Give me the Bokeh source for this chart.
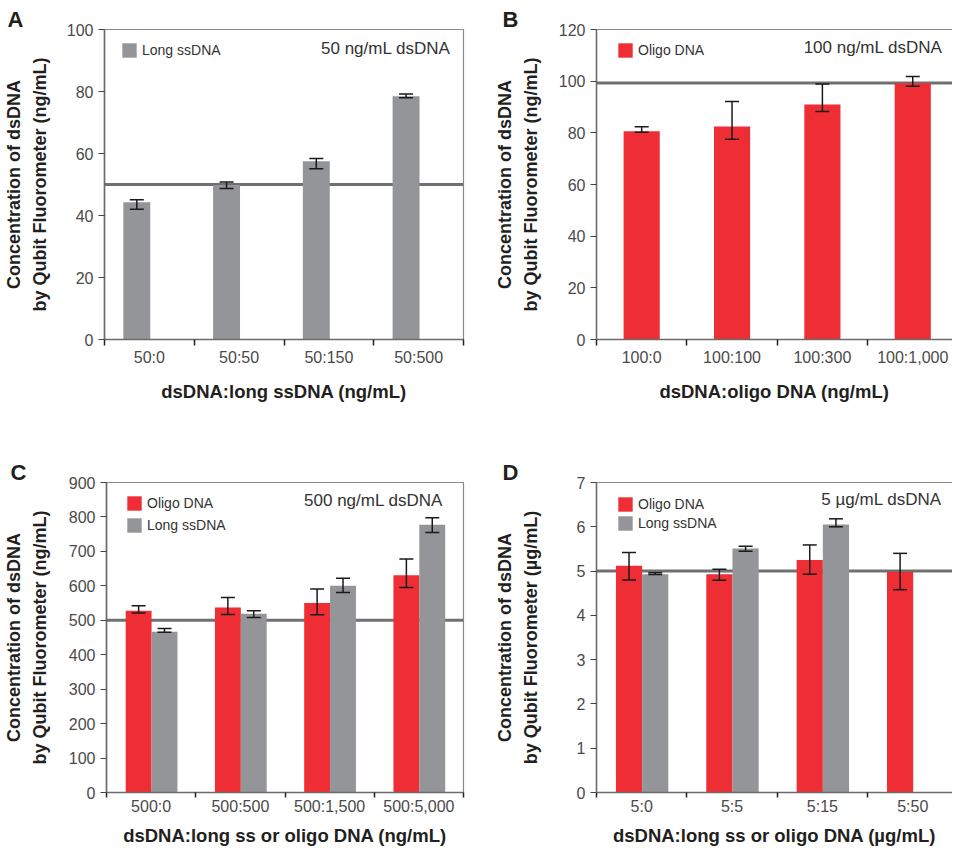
import numpy as np
from bokeh.plotting import figure
from bokeh.models import (Range1d, FixedTicker, SingleIntervalTicker, LinearAxis, Span, Label,
                          Whisker, TeeHead, ColumnDataSource, Legend, LegendItem)
from bokeh.layouts import column, row
from bokeh.embed import file_html
from bokeh.resources import INLINE

RED = "#ee2e34"
GREY = "#939598"
FONT = "Liberation Sans"

# ---------------- data ----------------
# Panel A: 50 ng/mL dsDNA + long ssDNA
a_categories = ["50:0", "50:50", "50:150", "50:500"]
a_long = [44.3, 49.8, 57.5, 78.5]
a_long_lo = [42.0, 48.7, 55.1, 78.0]
a_long_hi = [45.1, 50.8, 58.4, 79.2]
a_ref = 50

# Panel B: 100 ng/mL dsDNA + oligo DNA
b_categories = ["100:0", "100:100", "100:300", "100:1,000"]
b_oligo = [80.6, 82.5, 91.0, 99.2]
b_oligo_lo = [80.2, 77.5, 88.3, 98.0]
b_oligo_hi = [82.4, 92.1, 98.9, 101.8]
b_ref = 99.3

# Panel C: 500 ng/mL dsDNA
c_categories = ["500:0", "500:500", "500:1,500", "500:5,000"]
c_oligo = [528, 537, 550, 631]
c_oligo_lo = [521, 517, 516, 595]
c_oligo_hi = [542, 566, 591, 678]
c_long = [467, 519, 600, 777]
c_long_lo = [465, 508, 581, 755]
c_long_hi = [476, 528, 622, 798]
c_ref = 500

# Panel D: 5 µg/mL dsDNA
d_categories = ["5:0", "5:5", "5:15", "5:50"]
d_oligo = [5.12, 4.93, 5.25, 4.98]
d_oligo_lo = [4.80, 4.79, 4.93, 4.58]
d_oligo_hi = [5.42, 5.04, 5.59, 5.40]
d_long = [4.93, 5.51, 6.05, np.nan]
d_long_lo = [4.92, 5.45, 6.00, np.nan]
d_long_hi = [4.96, 5.56, 6.18, np.nan]
d_ref = 5.0

Y_TITLE_NG = "Concentration of dsDNA\nby Qubit Fluorometer (ng/mL)"
Y_TITLE_UG = "Concentration of dsDNA\nby Qubit Fluorometer (µg/mL)"


def make_panel(letter, cats, series, ref_level, y_end, y_step, y_title, x_title, note,
               width, height, x_end, mb, boxed, note_xy, letter_offset, legend_xy, legend_spacing,
               ylab_standoff, xlab_standoff, xtick_standoff, xtick_out, xminor_out):
    p = figure(width=width, height=height, x_range=Range1d(0, x_end), y_range=Range1d(0, y_end),
               output_backend="svg", toolbar_location=None,
               min_border_left=mb[0], min_border_right=mb[1], min_border_top=mb[2], min_border_bottom=mb[3])
    p.xgrid.visible = False
    p.ygrid.visible = False
    p.background_fill_color = "white"
    p.border_fill_color = "white"
    p.outline_line_color = "#8a8a8a" if boxed else None
    p.outline_line_width = 1.2

    # panel letter as the figure title
    p.title.text = letter
    p.title.align = "left"
    p.title.offset = letter_offset
    p.title.standoff = -4
    p.title.text_font = FONT
    p.title.text_font_size = "22px"
    p.title.text_font_style = "bold"
    p.title.text_color = "#231f20"

    items = []
    n = len(cats)
    for s in series:
        xs = [i + s["slot"] for i in range(n)]
        src = ColumnDataSource(dict(x=xs, top=list(s["values"]), lo=list(s["lo"]), hi=list(s["hi"])))
        r = p.vbar(x="x", top="top", bottom=0, width=s["width"], source=src,
                   fill_color=s["color"], line_color=None)
        items.append(LegendItem(label=s["name"], renderers=[r]))
        w = Whisker(source=src, base="x", lower="lo", upper="hi", dimension="height",
                    line_color="#1a1a1a", line_width=1.5, level="overlay",
                    upper_head=TeeHead(size=14, line_color="#1a1a1a", line_width=1.5),
                    lower_head=TeeHead(size=14, line_color="#1a1a1a", line_width=1.5))
        p.add_layout(w)

    p.add_layout(Span(location=ref_level, dimension="width", line_color="#707070", line_width=3,
                      level="underlay"))

    # x axis: labels at category centres, tick marks at category boundaries
    xa = p.below[0]
    xa.ticker = FixedTicker(ticks=[i + 0.5 for i in range(n)], minor_ticks=list(range(n + 1)))
    xa.major_label_overrides = {i + 0.5: c for i, c in enumerate(cats)}
    xa.major_tick_line_color = None
    xa.major_tick_out = xtick_out
    xa.major_tick_in = 0
    xa.minor_tick_out = xminor_out
    xa.minor_tick_in = 0
    xa.minor_tick_line_color = "#222222"
    xa.minor_tick_line_width = 1.5
    xa.axis_line_color = "#6b6b6b"
    xa.axis_line_width = 1.6
    xa.major_label_standoff = xtick_standoff
    xa.major_label_text_font = FONT
    xa.major_label_text_font_size = "16px"
    xa.major_label_text_color = "#4a4a4a"
    xa.axis_label = x_title
    xa.axis_label_text_font = FONT
    xa.axis_label_text_font_style = "bold"
    xa.axis_label_text_font_size = "18.5px"
    xa.axis_label_text_color = "#231f20"
    xa.axis_label_standoff = xlab_standoff

    ya = p.left[0]
    ya.ticker = SingleIntervalTicker(interval=y_step, num_minor_ticks=0)
    ya.major_tick_out = 6
    ya.major_tick_in = 0
    ya.major_tick_line_color = "#444444"
    ya.major_tick_line_width = 1.2
    ya.minor_tick_line_color = None
    ya.axis_line_color = "#6b6b6b"
    ya.axis_line_width = 1.6
    ya.major_label_standoff = 5
    ya.major_label_text_font = FONT
    ya.major_label_text_font_size = "16px"
    ya.major_label_text_color = "#4a4a4a"
    ya.axis_label = y_title
    ya.axis_label_text_font = FONT
    ya.axis_label_text_font_style = "bold"
    ya.axis_label_text_font_size = "18px"
    ya.axis_label_text_color = "#231f20"
    ya.axis_label_text_line_height = 1.3
    ya.axis_label_standoff = ylab_standoff

    if not boxed:
        top_axis = LinearAxis(ticker=FixedTicker(ticks=[]), axis_line_color="#8a8a8a",
                              axis_line_width=1.2, major_tick_line_color=None,
                              minor_tick_line_color=None, major_label_text_font_size="0px",
                              major_tick_out=0, major_tick_in=0, major_label_standoff=0)
        p.add_layout(top_axis, "above")

    legend = Legend(items=items, location=legend_xy, orientation="vertical",
                    glyph_width=18, glyph_height=18, label_height=18, label_standoff=4,
                    spacing=legend_spacing, padding=0, margin=0,
                    border_line_color=None, background_fill_alpha=0,
                    label_text_font=FONT, label_text_font_size="14px", label_text_color="#333333")
    p.add_layout(legend)

    p.add_layout(Label(x=note_xy[0], y=note_xy[1], text=note, text_align="right",
                       text_baseline="middle", text_font=FONT, text_font_size="17px",
                       text_color="#333333"))
    return p


pa = make_panel("A", a_categories,
                [dict(name="Long ssDNA", color=GREY, values=a_long, lo=a_long_lo, hi=a_long_hi,
                      slot=0.36, width=0.30)],
                a_ref, 100, 20, Y_TITLE_NG, "dsDNA:long ssDNA (ng/mL)", "50 ng/mL dsDNA",
                477, 440, 4, (104, 14, 29, 101), True, (3.855, 93.9), -97,
                (16, 280), 0, 14, 12, 3, 6, 6)

pb = make_panel("B", b_categories,
                [dict(name="Oligo DNA", color=RED, values=b_oligo, lo=b_oligo_lo, hi=b_oligo_hi,
                      slot=0.5, width=0.40)],
                b_ref, 120, 20, Y_TITLE_NG, "dsDNA:oligo DNA (ng/mL)", "100 ng/mL dsDNA",
                475, 440, 3.94, (119, 0, 29, 101), False, (3.83, 112.9), -94,
                (20, 280), 0, 15, 12, 3, 6, 6)

pc = make_panel("C", c_categories,
                [dict(name="Oligo DNA", color=RED, values=c_oligo, lo=c_oligo_lo, hi=c_oligo_hi,
                      slot=0.36, width=0.29),
                 dict(name="Long ssDNA", color=GREY, values=c_long, lo=c_long_lo, hi=c_long_hi,
                      slot=0.65, width=0.29)],
                c_ref, 900, 100, Y_TITLE_NG, "dsDNA:long ss or oligo DNA (ng/mL)", "500 ng/mL dsDNA",
                477, 410, 4, (103, 14, 42, 58), True, (3.77, 847), -96,
                (19, 258), 4, 16, 7, 0, 3, 5)

pd = make_panel("D", d_categories,
                [dict(name="Oligo DNA", color=RED, values=d_oligo, lo=d_oligo_lo, hi=d_oligo_hi,
                      slot=0.36, width=0.29),
                 dict(name="Long ssDNA", color=GREY, values=d_long, lo=d_long_lo, hi=d_long_hi,
                      slot=0.65, width=0.29)],
                d_ref, 7, 1, Y_TITLE_UG, "dsDNA:long ss or oligo DNA (µg/mL)", "5 µg/mL dsDNA",
                475, 410, 3.94, (119, 0, 42, 58), False, (3.82, 6.61), -94,
                (20, 260), 1, 33, 7, 0, 3, 5)

layout = column(row(pa, pb), row(pc, pd))

open("out.html", "w").write(file_html(layout, INLINE))
